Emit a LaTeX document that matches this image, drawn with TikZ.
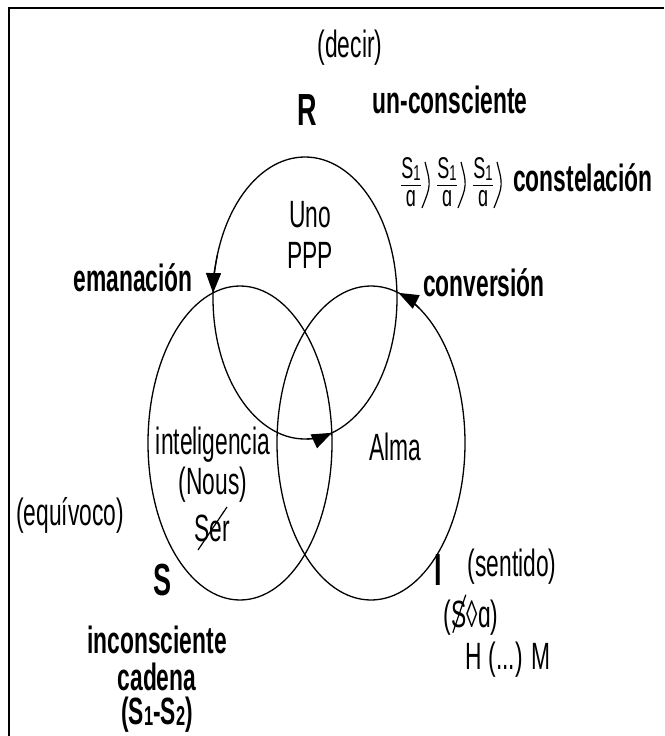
\documentclass[tikz,border=0pt]{standalone}
\usepackage{fontspec}
\setmainfont{Liberation Sans}[FakeStretch=0.6]
\usetikzlibrary{arrows.meta,calc,positioning}

\newcommand{\ind}[1]{\raisebox{-1.5pt}{\fontsize{0.72em}{1em}\selectfont #1}}

\tikzset{
  lbl/.style={inner sep=0pt, font=\fontsize{38}{42}\selectfont},
  boldlbl/.style={inner sep=0pt, font=\fontsize{38}{42}\selectfont\bfseries},
  biglbl/.style={inner sep=0pt, font=\fontsize{45}{48}\selectfont\bfseries},
  fraclbl/.style={inner sep=0pt, font=\fontsize{30}{32}\selectfont},
  ring/.style={line width=1.3pt},
  head/.style={line width=1.3pt, -{Triangle[length=20pt,width=15pt]}}
}

\begin{document}
\begin{tikzpicture}[x=1pt,y=-1pt]
\useasboundingbox (0,0) rectangle (664,736);
% frame
\draw[line width=1.6pt] (9,736) -- (9,8) -- (664,8);

% the three rings
\coordinate (Rc) at (305,298);
\coordinate (Sc) at (240,443);
\coordinate (Ic) at (371,443);
\draw[ring] (Rc) ellipse [x radius=92, y radius=141];
\draw[ring] (Sc) ellipse [x radius=92, y radius=157];
\draw[ring] (Ic) ellipse [x radius=94, y radius=157];

% arrowheads on the rings
\draw[head] (Rc) ++(198:92 and 141) arc[start angle=198, end angle=182, x radius=92, y radius=141];
\draw[head] (Rc) ++(89:92 and 141) arc[start angle=89, end angle=73, x radius=92, y radius=141];
\draw[head] (Ic) ++(301:94 and 157) arc[start angle=301, end angle=287, x radius=94, y radius=157];

% top
\node[lbl] (decir) at (350,48) {(decir)};
\node[biglbl] (R) at (307,110) {R};
\node[boldlbl] (uncons) at (450,100) {un-consciente};
\foreach \i/\x in {1/411, 2/447, 3/483} {
  \node[fraclbl] (num\i) at (\x,169) {S\ind{1}};
  \node[fraclbl] (den\i) at (\x,199) {ɑ};
  \draw[line width=1pt] (\x-10,185) -- (\x+10,185);
  \draw[line width=1.2pt] (\x+14,162) .. controls (\x+20,185) .. (\x+11,208);
}
\node[boldlbl] (constel) at (583,178) {constelación};

% inside the rings
\node[lbl] (uno) at (310,215) {Uno};
\node[lbl] (ppp) at (310,255) {PPP};
\node[lbl] (intel) at (213,445) {inteligencia};
\node[lbl] (nous) at (213,485) {(Nous)};
\node[lbl] (ser) at (212,528) {Ser};
\draw[line width=1.2pt] ($(ser)+(-14,22)$) -- ($(ser)+(15,-21)$);
\node[lbl] (alma) at (395,447) {Alma};

% sides
\node[boldlbl] (eman) at (133,278) {emanación};
\node[boldlbl] (conv) at (484,283) {conversión};
\node[lbl] (equiv) at (70,515) {(equívoco)};
\node[biglbl] (S) at (163,580) {S};
\node[biglbl] (I) at (438,570) {I};
\node[lbl] (sent) at (512,567) {(sentido)};

% bottom right
\node[lbl] (parL) at (447,618) {(};
\node[lbl, anchor=base west] (barS) at (parL.base east) {S};
\node[lbl, anchor=base west] (rest) at (barS.base east) {◊ɑ)};
\draw[line width=1.2pt] ($(barS.center)+(-6,18)$) -- ($(barS.center)+(7,-20)$);
\node[lbl] (hm) at (508,660) {H (...) M};

% bottom left
\node[boldlbl] (incons) at (157,640) {inconsciente};
\node[boldlbl, below=9pt of incons] (cadena) {cadena};
\node[boldlbl, below=5pt of cadena] (cad) {(S\ind{1}-S\ind{2})};
\end{tikzpicture}
\end{document}
